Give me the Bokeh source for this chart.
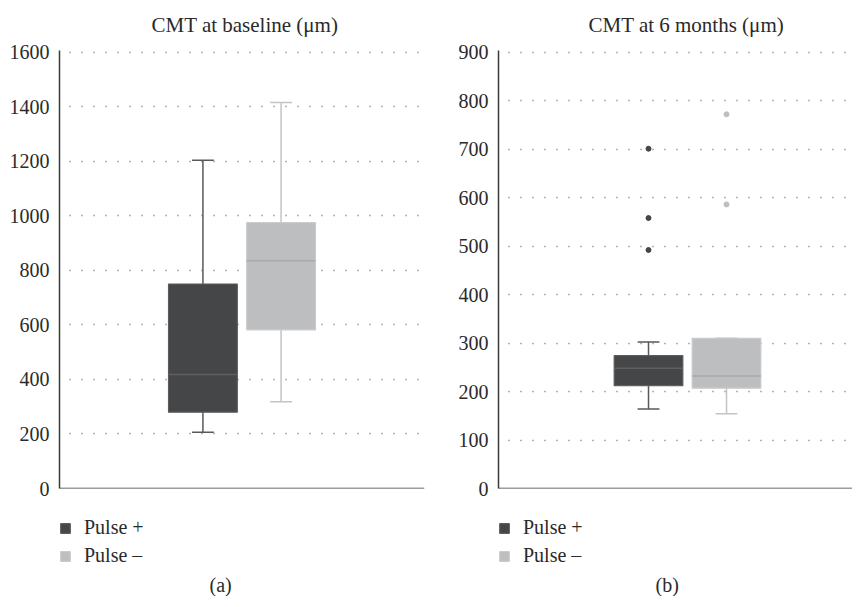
from bokeh.plotting import figure
from bokeh.models import Range1d, FixedTicker, Legend, LegendItem, ColumnDataSource
from bokeh.layouts import row, column
from bokeh.embed import file_html
from bokeh.resources import INLINE

groups = ["Pulse +", "Pulse –"]
fill_colors = ["#454648", "#bdbec0"]
edge_colors = ["#5a5b5d", "#c9cacc"]
median_colors = ["#5f6062", "#a9aaac"]
whisker_colors = ["#58595b", "#c3c4c6"]

# CMT at baseline (µm)
base_lower = [206, 318]
base_q1 = [280, 582]
base_median = [418, 835]
base_q3 = [750, 975]
base_upper = [1204, 1416]
base_outliers = [[], []]
base_ticks = [0, 200, 400, 600, 800, 1000, 1200, 1400, 1600]

# CMT at 6 months (µm)
m6_lower = [164, 154]
m6_q1 = [212, 207]
m6_median = [248, 232]
m6_q3 = [274, 310]
m6_upper = [302, 310]
m6_outliers = [[492, 558, 701], [586, 772]]
m6_ticks = [0, 100, 200, 300, 400, 500, 600, 700, 800, 900]

FONT = "Liberation Serif"
FSIZE = "20px"
TXT = "#2a2a2a"


def panel(title, caption, lower, q1, med, q3, upper, outliers, ticks,
          xstart, xend, border_left, border_right, width, title_offset, cap_offset):
    xs = list(range(len(groups)))
    src = ColumnDataSource(dict(x=xs, grp=groups, lower=lower, q1=q1, med=med,
                                q3=q3, upper=upper, fill=fill_colors,
                                edge=edge_colors, medc=median_colors,
                                wc=whisker_colors,
                                cx0=[x - 0.14 for x in xs], cx1=[x + 0.14 for x in xs],
                                bx0=[x - 0.44 for x in xs], bx1=[x + 0.44 for x in xs]))

    p = figure(width=width, height=502, output_backend="svg", toolbar_location=None,
               title=title, x_range=Range1d(xstart, xend),
               y_range=Range1d(ticks[0], ticks[-1] * 1.004),
               min_border_left=border_left, min_border_right=border_right,
               min_border_top=48, min_border_bottom=14)
    p.title.text_font = FONT
    p.title.text_font_style = "normal"
    p.title.text_font_size = "21px"
    p.title.text_color = TXT
    p.title.align = "left"
    p.title.vertical_align = "top"
    p.title.offset = title_offset
    p.title.standoff = 24
    p.outline_line_color = None
    p.xgrid.visible = False
    p.ygrid.grid_line_color = "#6a6a6a"
    p.ygrid.grid_line_dash = "1 11"
    p.ygrid.grid_line_dash_offset = 2
    p.ygrid.grid_line_width = 1.5
    p.ygrid.ticker = FixedTicker(ticks=ticks)

    p.yaxis.ticker = FixedTicker(ticks=ticks)
    p.yaxis.axis_line_color = "#3a3a3a"
    p.yaxis.axis_line_width = 1.5
    p.yaxis.major_tick_line_color = None
    p.yaxis.major_tick_out = 0
    p.yaxis.major_tick_in = 0
    p.yaxis.minor_tick_line_color = None
    p.yaxis.major_label_text_font = FONT
    p.yaxis.major_label_text_font_size = FSIZE
    p.yaxis.major_label_text_color = TXT
    p.yaxis.major_label_standoff = 10

    p.xaxis.visible = False
    p.segment(x0=[xstart], y0=[ticks[0]], x1=[xend], y1=[ticks[0]],
              line_color="#3a3a3a", line_width=1.5)

    # whiskers and caps
    p.segment(x0="x", y0="q3", x1="x", y1="upper", line_color="wc", line_width=1.5, source=src)
    p.segment(x0="x", y0="q1", x1="x", y1="lower", line_color="wc", line_width=1.5, source=src)
    p.segment(x0="cx0", y0="upper", x1="cx1", y1="upper", line_color="wc", line_width=1.5, source=src)
    p.segment(x0="cx0", y0="lower", x1="cx1", y1="lower", line_color="wc", line_width=1.5, source=src)
    p.vbar(x="x", width=0.88, bottom="q1", top="q3", fill_color="fill",
           line_color="edge", line_width=1.2, source=src)
    p.segment(x0="bx0", y0="med", x1="bx1", y1="med", line_color="medc", line_width=1.5, source=src)

    for i, vals in enumerate(outliers):
        if vals:
            p.scatter(x=[i] * len(vals), y=vals, size=5, fill_color=fill_colors[i],
                      line_color=fill_colors[i])

    # legend + caption figure
    q = figure(width=width, height=94, output_backend="svg", toolbar_location=None,
               title=caption, title_location="below",
               x_range=Range1d(xstart, xend), y_range=Range1d(-2, -1),
               x_axis_location=None, y_axis_location=None,
               min_border_left=border_left, min_border_right=border_right,
               min_border_top=14, min_border_bottom=26)
    q.outline_line_color = None
    q.grid.visible = False
    q.title.text_font = FONT
    q.title.text_font_style = "normal"
    q.title.text_font_size = FSIZE
    q.title.text_color = TXT
    q.title.align = "left"
    q.title.offset = cap_offset
    q.title.standoff = 2
    boxes = q.vbar(x="x", width=0.88, bottom="q1", top="q3", fill_color="fill",
                   line_color="edge", line_width=1.2, source=src)
    boxes.visible = False
    legend = Legend(items=[LegendItem(label=g, renderers=[boxes], index=i)
                           for i, g in enumerate(groups)],
                    location="top_left", orientation="vertical",
                    glyph_width=12, glyph_height=12, label_standoff=13,
                    label_text_font=FONT, label_text_font_size=FSIZE,
                    label_text_color=TXT, label_height=20, spacing=5,
                    padding=0, margin=0, border_line_color=None,
                    background_fill_alpha=0, inactive_fill_alpha=0)
    q.add_layout(legend, "center")
    return column(p, q, spacing=0)


p1 = panel("CMT at baseline (μm)", "(a)", base_lower, base_q1, base_median, base_q3,
           base_upper, base_outliers, base_ticks, -1.835, 2.835, 59, 2, 426, 92, 150)
p2 = panel("CMT at 6 months (μm)", "(b)", m6_lower, m6_q1, m6_median, m6_q3,
           m6_upper, m6_outliers, m6_ticks, -1.923, 2.615, 72, 0, 426, 90, 157)

layout = row(p1, p2, spacing=0)
open("out.html", "w").write(file_html(layout, INLINE))
